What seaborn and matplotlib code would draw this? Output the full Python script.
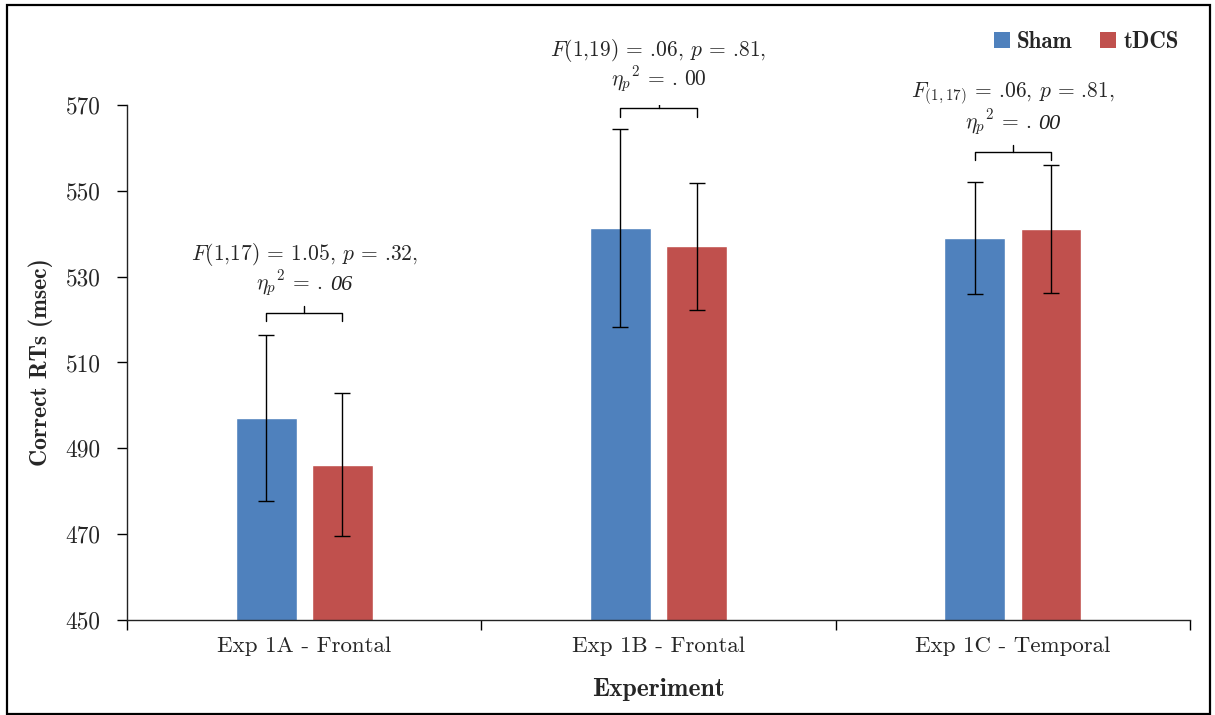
import matplotlib
matplotlib.use("Agg")
import matplotlib.pyplot as plt
import seaborn as sns
import pandas as pd
from matplotlib.patches import Rectangle, Patch
from matplotlib.offsetbox import TextArea, HPacker, AnnotationBbox

# ---- data ----
experiments = ["Exp 1A - Frontal", "Exp 1B - Frontal", "Exp 1C - Temporal"]
conditions = ["Sham", "tDCS"]
sham_means = [497.0, 541.3, 539.0]
tdcs_means = [486.2, 537.1, 541.1]
sham_err = [19.3, 23.1, 13.0]
tdcs_err = [16.7, 14.8, 14.9]
stat_line1 = [r"$F$(1,17) = 1.05, $p$ = .32,",
              r"$F$(1,19) = .06, $p$ = .81,",
              r"$F_{(1,17)}$ = .06, $p$ = .81,"]
eta_label = r"$\eta_p{}^2$ = ."
eta_values = ["06", "00", "00"]
eta_italic = [True, False, True]
yticks = [450, 470, 490, 510, 530, 550, 570]
colors = {"Sham": "#4F81BD", "tDCS": "#C0504D"}

sns.set_theme(style="white")
plt.rcParams["font.family"] = ["cmr10", "DejaVu Serif"]
plt.rcParams["mathtext.fontset"] = "cm"
plt.rcParams["axes.unicode_minus"] = False
plt.rcParams["axes.formatter.use_mathtext"] = True

df = pd.DataFrame({
    "Experiment": experiments * 2,
    "Condition": ["Sham"] * 3 + ["tDCS"] * 3,
    "RT": sham_means + tdcs_means,
})

fig = plt.figure(figsize=(12.15, 7.15), dpi=100)
ax = fig.add_axes([0.1045, 0.1329, 0.875, 0.7203])

sns.barplot(data=df, x="Experiment", y="RT", hue="Condition", order=experiments,
            hue_order=conditions, palette=colors, width=0.43, gap=0.2,
            errorbar=None, ax=ax, legend=False, saturation=1)

errs = {"Sham": sham_err, "tDCS": tdcs_err}
means = {"Sham": sham_means, "tDCS": tdcs_means}
centers = {}
for cont, cond in zip(ax.containers, conditions):
    xs = [b.get_x() + b.get_width() / 2 for b in cont]
    centers[cond] = xs
    ax.errorbar(xs, means[cond], yerr=errs[cond], fmt="none", ecolor="black",
                elinewidth=1.0, capsize=5.5, capthick=1.0, zorder=3)

ax.set_ylim(450, 570)
ax.set_xlim(-0.5, 2.5)
ax.set_yticks(yticks)
ax.set_yticklabels([str(t) for t in yticks], fontsize=16.8)
ax.tick_params(axis="y", direction="out", length=7, width=1, color="black", left=True, pad=12)
ax.set_xticks(range(3))
ax.set_xticklabels(experiments, fontsize=16.5)
ax.tick_params(axis="x", which="major", length=0, pad=12)
ax.set_xticks([-0.5, 0.5, 1.5, 2.5], minor=True)
ax.tick_params(axis="x", which="minor", direction="out", length=7, width=1, color="black", bottom=True)

for s in ["top", "right"]:
    ax.spines[s].set_visible(False)
for s in ["left", "bottom"]:
    ax.spines[s].set_color("#222222")
    ax.spines[s].set_linewidth(1.0)

ax.set_ylabel("Correct RTs (msec)", fontsize=17, family="cmb10", labelpad=9)
ax.set_xlabel("Experiment", fontsize=18.5, family="cmb10", labelpad=16)

# significance brackets
offsets = [5.2, 4.8, 3.0]
for i in range(3):
    x1, x2 = centers["Sham"][i], centers["tDCS"][i]
    top = max(sham_means[i] + sham_err[i], tdcs_means[i] + tdcs_err[i])
    yb = top + offsets[i]
    xm = (x1 + x2) / 2
    ax.plot([x1, x1, x2, x2], [yb - 1.9, yb, yb, yb - 1.9], color="black", lw=1.0)
    ax.plot([xm, xm], [yb, yb + 1.6], color="black", lw=1.0)
    ax.annotate(stat_line1[i], (xm, yb), xytext=(0, 42), textcoords="offset points",
                ha="center", va="center", fontsize=15.5)
    if eta_italic[i]:
        val = TextArea(eta_values[i],
                       textprops=dict(fontsize=16, family="Liberation Serif",
                                      style="italic", color="#222222"))
    else:
        val = TextArea(eta_values[i], textprops=dict(fontsize=15.5))
    lab = TextArea(eta_label, textprops=dict(fontsize=15.5))
    pack = HPacker(children=[lab, val], align="baseline", pad=0, sep=5)
    ab = AnnotationBbox(pack, (xm, yb), xybox=(0, 21), xycoords="data",
                        boxcoords="offset points", frameon=False,
                        box_alignment=(0.5, 0.5), pad=0)
    ax.add_artist(ab)

handles = [Patch(facecolor=colors[c], edgecolor="none") for c in conditions]
fig.legend(handles, conditions, loc="upper right", bbox_to_anchor=(0.987, 0.985),
           ncol=2, frameon=False, handlelength=0.7, handleheight=0.7,
           handletextpad=0.3, columnspacing=1.2, prop={"family": "cmb10", "size": 16.5})

fig.patches.append(Rectangle((0.0058, 0.002), 0.9901, 0.991, transform=fig.transFigure,
                             fill=False, edgecolor="black", linewidth=1.6))

fig.savefig("out.png", dpi=100)
